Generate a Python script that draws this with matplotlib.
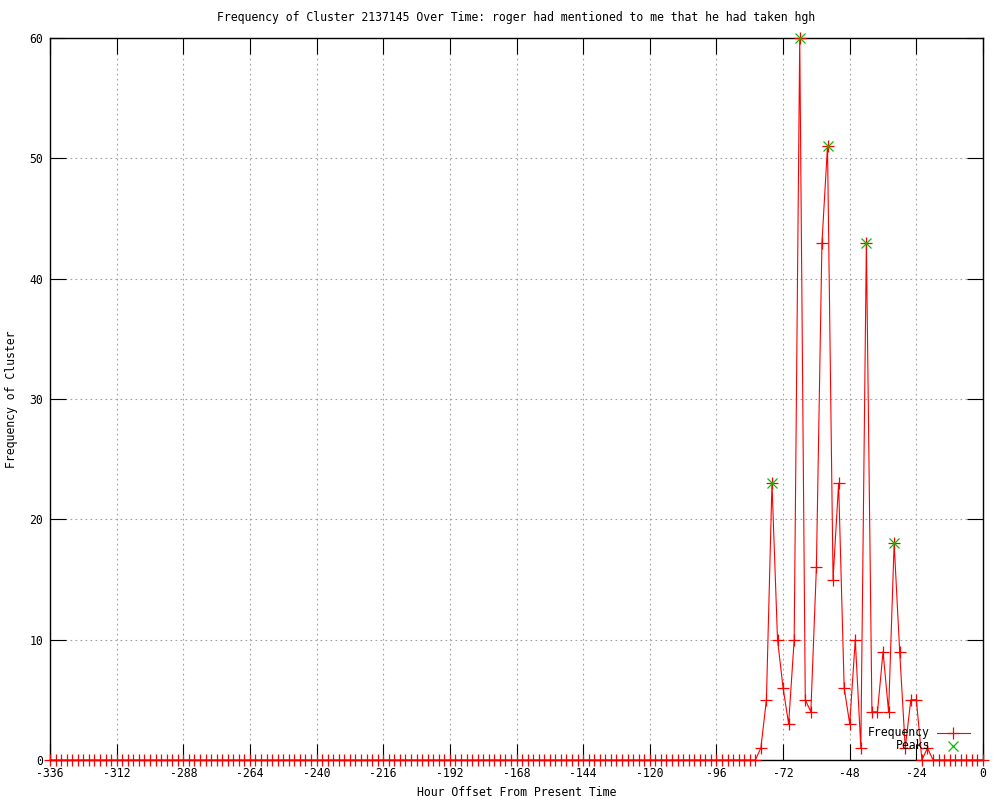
# Frequency of a cluster over time, gnuplot-style chart
import matplotlib
matplotlib.use("Agg")
import matplotlib.pyplot as plt
from matplotlib.lines import Line2D
import numpy as np

# hours (every 2 hours from -336 to 0)
hours = list(range(-336, 1, 2))
# frequency values: zeros until -82, activity -80..-20, zeros after
active_freq = [1, 5, 23, 10, 6, 3, 10, 60, 5, 4, 16, 43, 51, 15, 23, 6, 3, 10, 1,
               43, 4, 4, 9, 4, 18, 9, 1, 5, 5, 0, 1]
freq = [0] * 128 + active_freq + [0] * 10

# detected peaks
peak_hours = [-76, -66, -56, -42, -32]
peak_vals = [23, 60, 51, 43, 18]

xticks = list(range(-336, 1, 24))
yticks = list(range(0, 61, 10))

title = "Frequency of Cluster 2137145 Over Time: roger had mentioned to me that he had taken hgh"

plt.rcParams['font.family'] = ['DejaVu Sans Mono']
plt.rcParams['axes.unicode_minus'] = False
fs = 8.3

fig = plt.figure(figsize=(10, 8), dpi=100)
ax = fig.add_axes([0.05, 0.05, 0.933, 0.9025])

# data
ax.plot(hours, freq, color="red", lw=0.8, marker="+", ms=9, mew=0.9,
        clip_on=False, zorder=5)
ax.plot(peak_hours, peak_vals, linestyle="none", marker="x", color="#00c000",
        ms=7, mew=0.9, clip_on=False, zorder=6)

# axes
ax.set_xlim(-336, 0)
ax.set_ylim(0, 60)
ax.set_xticks(xticks)
ax.set_yticks(yticks)
ax.tick_params(direction="in", length=11.5, width=0.8, top=True, right=True,
               labelsize=fs, colors="black")
ax.tick_params(axis="x", pad=5)
ax.tick_params(axis="y", pad=5)
for s in ax.spines.values():
    s.set_linewidth(1)
ax.grid(True, linestyle=(0, (1.5, 3)), color="#a0a0a0", lw=0.8)
ax.set_axisbelow(True)

ax.set_title(title, fontsize=fs, pad=12)
ax.set_xlabel("Hour Offset From Present Time", fontsize=fs)
ax.xaxis.set_label_coords(0.5, -0.0457)
ax.xaxis.label.set_va("center")
ax.set_ylabel("Frequency of Cluster", fontsize=fs, labelpad=8)

# gnuplot-like key, bottom right
ax.text(0.943, 0.0374, "Frequency", transform=ax.transAxes, ha="right",
        va="center", fontsize=fs, zorder=7)
ax.text(0.943, 0.0194, "Peaks", transform=ax.transAxes, ha="right",
        va="center", fontsize=fs, zorder=7)
ax.add_line(Line2D([0.951, 0.986], [0.0374, 0.0374], transform=ax.transAxes,
                   color="red", lw=0.8, zorder=7))
ax.add_line(Line2D([0.968], [0.0374], transform=ax.transAxes, color="red",
                   marker="+", ms=9, mew=0.9, zorder=7))
ax.add_line(Line2D([0.968], [0.0194], transform=ax.transAxes, color="#00c000",
                   marker="x", ms=7, mew=0.9, linestyle="none", zorder=7))

fig.savefig("out.png", dpi=100)
